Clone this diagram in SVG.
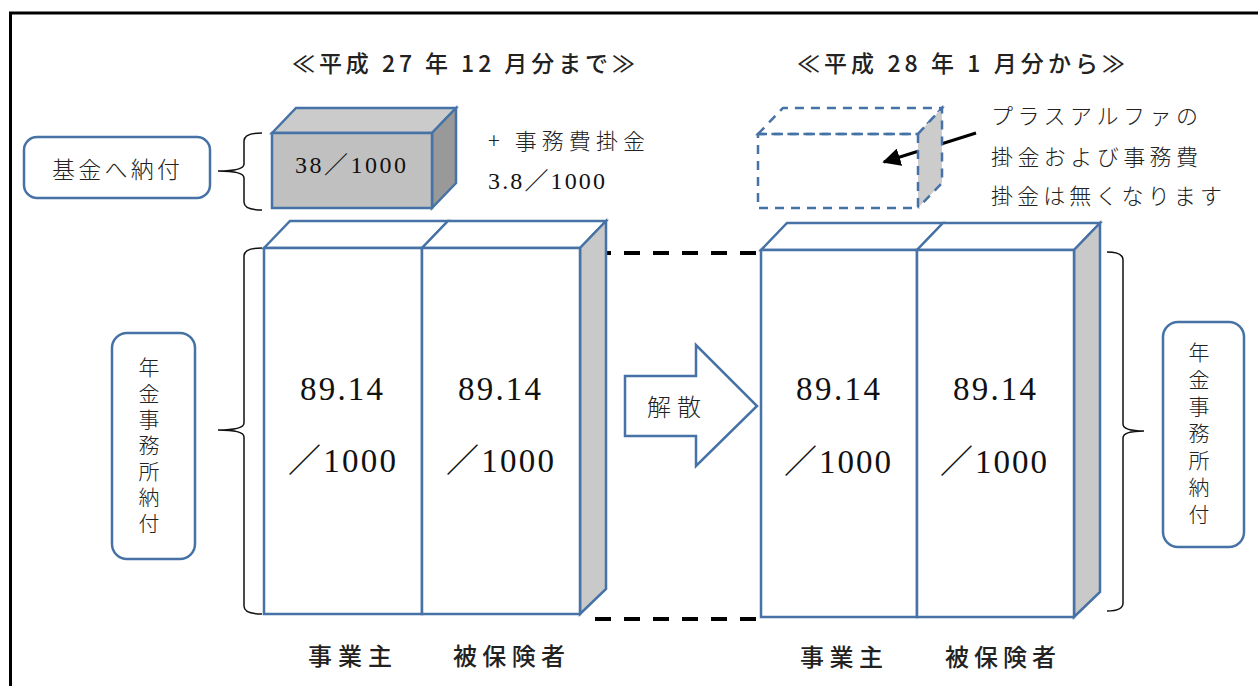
<svg xmlns="http://www.w3.org/2000/svg" width="1258" height="686" viewBox="0 0 1258 686">
<style>
.bl{stroke:#4672a6;stroke-width:2.5;stroke-linejoin:miter}
.wf{fill:#ffffff}
.side{fill:#c9c9c9}
.dash{fill:none;stroke:#4672a6;stroke-width:2.5;stroke-dasharray:9 7}
.jp{font-family:"Noto Sans CJK JP",sans-serif;fill:#222}
.vt{writing-mode:vertical-rl;letter-spacing:5px}
.num{font-family:"Liberation Serif","Noto Sans CJK JP",serif;fill:#111}
.brace{fill:none;stroke:#111;stroke-width:1.5}
.blk{stroke:#000;stroke-width:4;stroke-dasharray:16 13;fill:none}
</style>
<defs>
<marker id="ah" viewBox="0 0 10 10" refX="9" refY="5" markerWidth="6" markerHeight="6" markerUnits="strokeWidth" orient="auto">
<path d="M0,0 L10,5 L0,10 z" fill="#000"/>
</marker>
</defs>
<rect x="0" y="0" width="1258" height="686" fill="#fff"/>
<rect x="10.5" y="13" width="1270" height="700" fill="none" stroke="#000" stroke-width="3"/>

<g id="connectors">
<line class="blk" x1="595" y1="253" x2="761" y2="253"/>
<line class="blk" x1="595" y1="619" x2="757" y2="619"/>
<line x1="976" y1="133" x2="884" y2="162" stroke="#000" stroke-width="3" marker-end="url(#ah)"/>
<path class="brace" d="M262 133 Q244 133 244 141 L244 164 Q244 171 218 171 Q244 171 244 178 L244 202 Q244 210 262 210"/>
<path class="brace" d="M262 248 Q244 248 244 256 L244 423 Q244 430 218 430 Q244 430 244 437 L244 606 Q244 614 262 614"/>
<path class="brace" d="M1107 252 Q1123 252 1123 260 L1123 424 Q1123 431 1144 431 Q1123 431 1123 438 L1123 603 Q1123 611 1107 611"/>
</g>

<g id="title-before">
<text class="jp" x="292" y="72" font-size="23" font-weight="500" textLength="343" lengthAdjust="spacing">≪平成 27 年 12 月分まで≫</text>
</g>
<g id="title-after">
<text class="jp" x="797" y="72" font-size="23" font-weight="500" textLength="328" lengthAdjust="spacing">≪平成 28 年 1 月分から≫</text>
</g>

<g id="kikin-label">
<rect class="bl wf" x="24" y="137" width="186" height="61" rx="13"/>
<text class="jp" x="52" y="178" font-size="23" font-weight="300" textLength="128" lengthAdjust="spacing">基金へ納付</text>
</g>

<g id="kikin-box">
<polygon points="272,133 296,108 456,108 432,133" fill="#cbcbcb" class="bl"/>
<polygon points="432,133 456,108 456,183 432,208" fill="#999999" class="bl"/>
<rect x="272" y="133" width="160" height="75" fill="#c0c0c0" class="bl"/>
<text class="num" x="295" y="173" font-size="24" textLength="111" lengthAdjust="spacing">38／1000</text>
</g>

<g id="jimuhi">
<text class="jp" x="488" y="149" font-size="22" font-weight="300" textLength="157" lengthAdjust="spacing">+ 事務費掛金</text>
<text class="num" x="488" y="189" font-size="24" textLength="117" lengthAdjust="spacing">3.8／1000</text>
</g>

<g id="left-nenkin-label">
<rect class="bl wf" x="112" y="333" width="83" height="226" rx="15"/>
<text class="jp vt" x="149" y="357" font-size="21" font-weight="300">年金事務所納付</text>
</g>

<g id="left-cube">
<polygon class="bl wf" points="264,248 290,221 448,221 422,248"/>
<polygon class="bl wf" points="422,248 448,221 606,221 580,248"/>
<polygon class="bl side" points="580,248 606,221 606,589 580,614"/>
<rect class="bl wf" x="264" y="248" width="158" height="366"/>
<rect class="bl wf" x="422" y="248" width="158" height="366"/>
<text class="num" x="300" y="400" font-size="33" textLength="83" lengthAdjust="spacing">89.14</text>
<text class="num" x="288" y="472" font-size="33" textLength="108" lengthAdjust="spacing">／1000</text>
<text class="num" x="458" y="400" font-size="33" textLength="83" lengthAdjust="spacing">89.14</text>
<text class="num" x="446" y="472" font-size="33" textLength="108" lengthAdjust="spacing">／1000</text>
</g>

<g id="left-labels">
<text class="jp" x="308" y="665" font-size="24" font-weight="500" textLength="84" lengthAdjust="spacing">事業主</text>
<text class="jp" x="453" y="665" font-size="24" font-weight="500" textLength="112" lengthAdjust="spacing">被保険者</text>
</g>

<g id="kaisan-arrow">
<polygon class="bl wf" points="625,376 696,376 696,345 757,406 696,466 696,436 625,436"/>
<text class="jp" x="647" y="416" font-size="24" font-weight="300" textLength="54" lengthAdjust="spacing">解散</text>
</g>

<g id="right-cube">
<polygon class="bl wf" points="761,250 787,223 943,223 917,250"/>
<polygon class="bl wf" points="917,250 943,223 1100,223 1074,250"/>
<polygon class="bl side" points="1074,250 1100,223 1100,592 1074,617"/>
<rect class="bl wf" x="761" y="250" width="156" height="367"/>
<rect class="bl wf" x="917" y="250" width="157" height="367"/>
<text class="num" x="796" y="400" font-size="33" textLength="84" lengthAdjust="spacing">89.14</text>
<text class="num" x="784" y="473" font-size="33" textLength="107" lengthAdjust="spacing">／1000</text>
<text class="num" x="953" y="400" font-size="33" textLength="83" lengthAdjust="spacing">89.14</text>
<text class="num" x="940" y="473" font-size="33" textLength="107" lengthAdjust="spacing">／1000</text>
</g>

<g id="right-labels">
<text class="jp" x="800" y="666" font-size="24" font-weight="500" textLength="83" lengthAdjust="spacing">事業主</text>
<text class="jp" x="945" y="666" font-size="24" font-weight="500" textLength="111" lengthAdjust="spacing">被保険者</text>
</g>

<g id="right-nenkin-label">
<rect class="bl wf" x="1163" y="322" width="81" height="225" rx="15"/>
<text class="jp vt" x="1199" y="342" font-size="21" font-weight="300" style="letter-spacing:6px">年金事務所納付</text>
</g>

<g id="removed-box">
<polygon class="dash" points="758,134 783,108 942,108 918,134"/>
<polygon points="918,134 942,108 942,183 918,208" fill="#cccccc"/>
<path class="dash" d="M918 134 L942 108 L942 183 L918 208"/>
<rect class="dash" x="758" y="134" width="160" height="74"/>
</g>

<g id="removed-note">
<text class="jp" x="991" y="124" font-size="22" font-weight="300" textLength="207" lengthAdjust="spacing">プラスアルファの</text>
<text class="jp" x="991" y="165" font-size="22" font-weight="300" textLength="207" lengthAdjust="spacing">掛金および事務費</text>
<text class="jp" x="991" y="204" font-size="22" font-weight="300" textLength="231" lengthAdjust="spacing">掛金は無くなります</text>
</g>
</svg>
